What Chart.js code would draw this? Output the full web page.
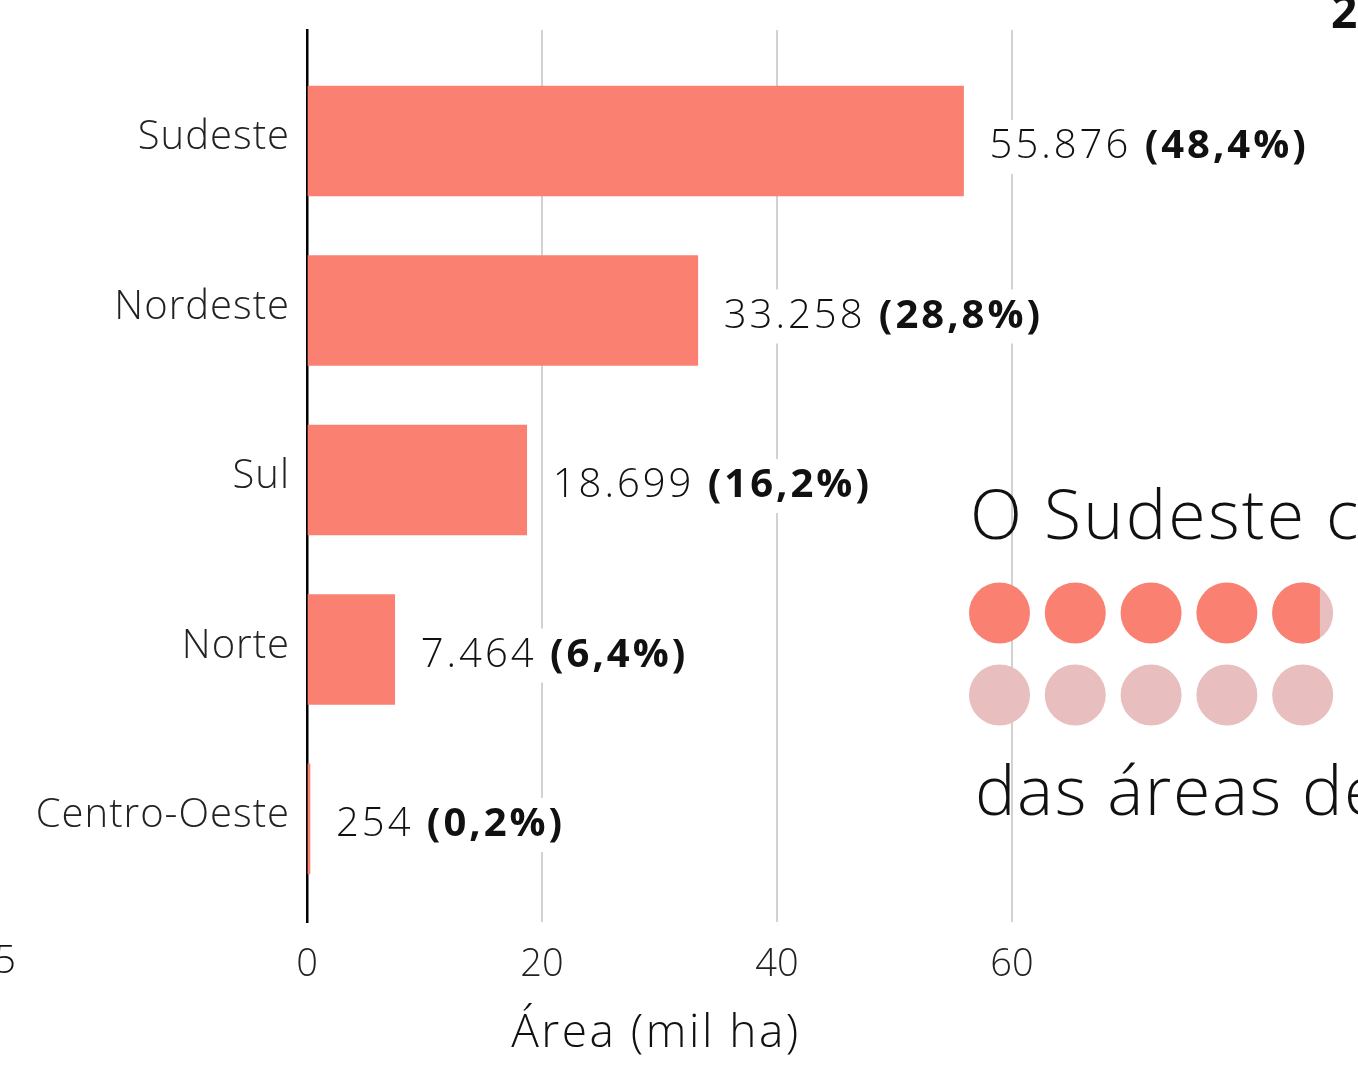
<!DOCTYPE html>
<html>
<head>
<meta charset="utf-8">
<script src="https://cdn.jsdelivr.net/npm/chart.js@4"></script>
<style>
  html, body { margin: 0; padding: 0; background: #fff; }
  #wrap { position: relative; width: 1358px; height: 1067px; overflow: hidden; }
  #areaChart { position: absolute; left: 0; top: 0; }
  #dotChart { position: absolute; left: 950px; top: 560px; }
</style>
</head>
<body>
<div id="wrap">
  <canvas id="areaChart" width="1358" height="1067"></canvas>
  <canvas id="dotChart" width="408" height="190"></canvas>
</div>
<script>
// ---- data ----
const regions = ["Sudeste", "Nordeste", "Sul", "Norte", "Centro-Oeste"];
const areaThousandHa = [55.876, 33.258, 18.699, 7.464, 0.254];
const sharePct = [48.4, 28.8, 16.2, 6.4, 0.2];
const xTicks = [0, 20, 40, 60];

const SALMON = "#FA8072";
const PALE = "#E8BEBE";
const LIGHT = "Open Sans";

// 55.876 -> "55.876", 0.254 -> "254"
function fmtArea(v) {
  return Math.round(v * 1000).toString().replace(/\B(?=(\d{3})+(?!\d))/g, ".");
}
function fmtPct(p) {
  return "(" + p.toFixed(1).replace(".", ",") + "%)";
}

// category names, value labels on white boxes, loose text around the panel
const labelPlugin = {
  id: "labels",
  afterDatasetsDraw(chart) {
    const ctx = chart.ctx;
    const yScale = chart.scales.y;
    const meta = chart.getDatasetMeta(0);
    ctx.save();
    ctx.textBaseline = "middle";

    ctx.letterSpacing = "1px";
    ctx.font = "300 40px '" + LIGHT + "'";
    ctx.textAlign = "right";
    ctx.fillStyle = "#222";
    regions.forEach((r, i) => {
      ctx.fillText(r, 290, yScale.getPixelForValue(i) - 3);
    });

    ctx.letterSpacing = "3px";
    ctx.textAlign = "left";
    meta.data.forEach((bar, i) => {
      const num = fmtArea(areaThousandHa[i]) + " ";
      const pct = fmtPct(sharePct[i]);
      const x = bar.x + 26;
      const y = bar.y + 6;
      ctx.font = "300 40px '" + LIGHT + "'";
      const w1 = ctx.measureText(num).width;
      ctx.font = "700 40px '" + LIGHT + "'";
      const w2 = ctx.measureText(pct).width;
      ctx.fillStyle = "#fff";
      ctx.fillRect(x - 4, y - 27, w1 + w2 + 6, 54);
      ctx.fillStyle = "#111";
      ctx.font = "300 40px '" + LIGHT + "'";
      ctx.fillText(num, x, y);
      ctx.font = "700 40px '" + LIGHT + "'";
      ctx.fillText(pct, x + w1, y);
    });

    // axis title
    ctx.letterSpacing = "2.5px";
    ctx.font = "300 46px '" + LIGHT + "'";
    ctx.textAlign = "center";
    ctx.fillStyle = "#111";
    ctx.fillText("Área (mil ha)", 656, 1034);

    // pieces of neighbouring panels
    ctx.letterSpacing = "0px";
    ctx.font = "300 38px '" + LIGHT + "'";
    ctx.textAlign = "right";
    ctx.fillText("5", 16, 962);
    ctx.font = "700 46px '" + LIGHT + "'";
    ctx.textAlign = "left";
    ctx.textBaseline = "alphabetic";
    ctx.fillText("2", 1331, 28);

    // infographic text
    ctx.letterSpacing = "2.2px";
    ctx.font = "300 68px '" + LIGHT + "'";
    ctx.fillText("O Sudeste concentra", 970, 539);
    ctx.letterSpacing = "1.6px";
    ctx.fillText("das áreas de", 975, 815);
    ctx.restore();
  }
};

new Chart(document.getElementById("areaChart"), {
  type: "bar",
  data: {
    datasets: [{
      data: regions.map((r, i) => ({ x: areaThousandHa[i], y: i })),
      backgroundColor: SALMON,
      borderWidth: 0,
      barThickness: 110
    }]
  },
  options: {
    indexAxis: "y",
    responsive: false,
    animation: false,
    layout: { autoPadding: false, padding: { top: 30, right: 0, left: 0, bottom: 0 } },
    plugins: { legend: { display: false }, tooltip: { enabled: false } },
    scales: {
      x: {
        type: "linear",
        min: 0,
        max: (1358 - 307) / 11.75,
        afterBuildTicks: (axis) => { axis.ticks = xTicks.map(v => ({ value: v })); },
        afterFit: (axis) => { axis.height = 1067 - 922; },
        grid: {
          color: (c) => c.tick && c.tick.value === 0 ? "rgba(0,0,0,0)" : "#d2d2d2",
          lineWidth: 2,
          drawTicks: false
        },
        border: { display: false },
        ticks: {
          padding: 20,
          color: "#222",
          font: { family: LIGHT, size: 38, weight: "300" }
        }
      },
      y: {
        type: "linear",
        reverse: true,
        offset: false,
        min: -0.655,
        max: 4.608,
        afterBuildTicks: (axis) => { axis.ticks = regions.map((r, i) => ({ value: i })); },
        afterFit: (axis) => { axis.width = 307; },
        grid: { display: false, drawTicks: false },
        border: { display: true, color: "#000", width: 2.5 },
        ticks: { display: false }
      }
    }
  },
  plugins: [labelPlugin]
});

// ---- ten dots, one per 10% of the area ----
const dotCols = [0, 1, 2, 3, 4];
const dotRows = [1, 0];
const dotShare = sharePct[0] / 10; // in dots
const DOT_R = 30.5;

// horizontal cut so that the filled part of a circle has the given area fraction
function cutFraction(f) {
  let lo = -1, hi = 1;
  for (let k = 0; k < 40; k++) {
    const t = (lo + hi) / 2;
    const a = (Math.PI / 2 + t * Math.sqrt(1 - t * t) + Math.asin(t)) / Math.PI;
    if (a < f) lo = t; else hi = t;
  }
  return (lo + hi) / 2;
}

const dotPoints = [];
const dotColors = [];
dotRows.forEach((row, r) => {
  dotCols.forEach((col) => {
    const idx = r * dotCols.length + col;
    dotPoints.push({ x: col, y: row });
    dotColors.push(idx + 1 <= Math.floor(dotShare) ? SALMON : PALE);
  });
});

const partialDot = {
  id: "partialDot",
  afterDatasetsDraw(chart) {
    const idx = Math.floor(dotShare);
    const frac = dotShare - idx;
    if (frac <= 0) return;
    const pt = chart.getDatasetMeta(0).data[idx];
    const t = cutFraction(frac);
    const ctx = chart.ctx;
    ctx.save();
    ctx.beginPath();
    ctx.rect(pt.x - DOT_R - 1, pt.y - DOT_R - 1, DOT_R * (1 + t) + 1, DOT_R * 2 + 2);
    ctx.clip();
    ctx.beginPath();
    ctx.arc(pt.x, pt.y, DOT_R, 0, Math.PI * 2);
    ctx.fillStyle = SALMON;
    ctx.fill();
    ctx.restore();
  }
};

new Chart(document.getElementById("dotChart"), {
  type: "scatter",
  data: {
    datasets: [{
      data: dotPoints,
      pointRadius: DOT_R,
      pointBorderWidth: 0,
      pointBackgroundColor: dotColors,
      pointBorderColor: dotColors
    }]
  },
  options: {
    responsive: false,
    animation: false,
    layout: { autoPadding: false, padding: 0 },
    plugins: { legend: { display: false }, tooltip: { enabled: false } },
    scales: {
      x: { display: false, min: -0.653, max: 4.730 },
      y: { display: false, min: -0.671, max: 1.646 }
    }
  },
  plugins: [partialDot]
});
</script>
</body>
</html>
